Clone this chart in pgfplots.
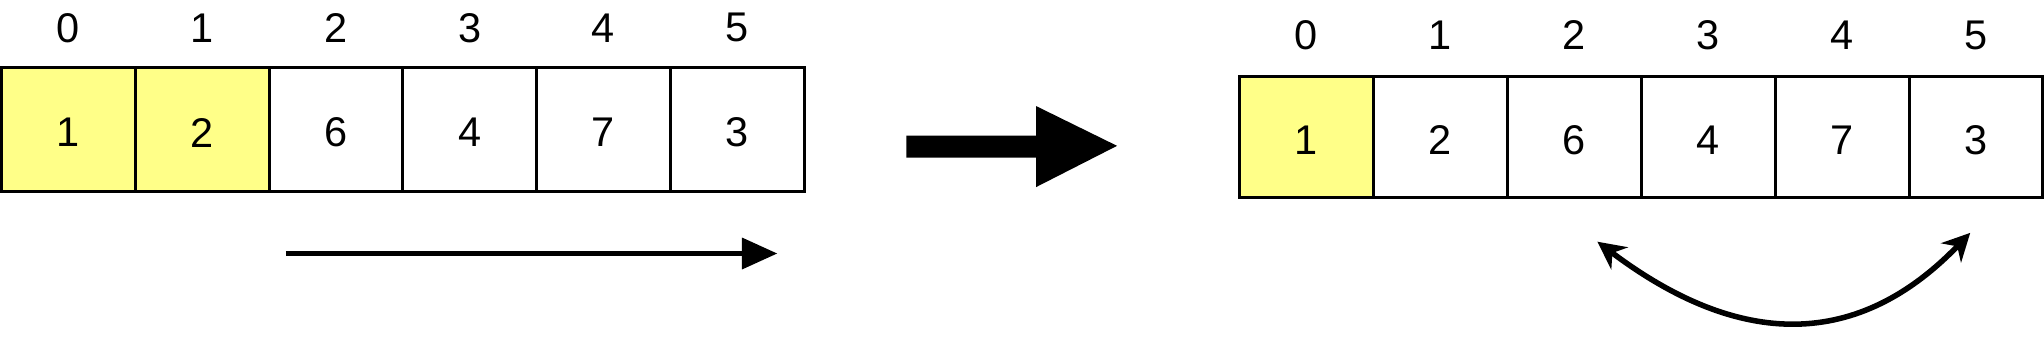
\documentclass[border=0pt]{standalone}
\usepackage{pgfplots}
\pgfplotsset{compat=1.18}
\usepackage{fontspec}
\setmainfont{Liberation Sans}
\usetikzlibrary{arrows.meta}
\definecolor{hl}{HTML}{FFFF88}
\begin{document}
\begin{tikzpicture}
\begin{axis}[width=20.44cm,height=4.8cm,scale only axis,axis lines=none,
 xmin=0,xmax=1560,ymin=0,ymax=366,y dir=reverse,clip=false,
 nodes={font=\fontsize{10.5}{12}\selectfont}]
% left array
\addplot[draw=none,fill=hl] coordinates {(50,109)(232,109)(232,193)(50,193)} --cycle;
\addplot[black,line width=0.8pt] coordinates {(50,109)(595,109)(595,193)(50,193)} --cycle;
\addplot[black,line width=0.8pt] coordinates {(141,109)(141,193)};
\addplot[black,line width=0.8pt] coordinates {(232,109)(232,193)};
\addplot[black,line width=0.8pt] coordinates {(322,109)(322,193)};
\addplot[black,line width=0.8pt] coordinates {(413,109)(413,193)};
\addplot[black,line width=0.8pt] coordinates {(504,109)(504,193)};
% right array
\addplot[draw=none,fill=hl] coordinates {(890,115)(981,115)(981,197)(890,197)} --cycle;
\addplot[black,line width=0.8pt] coordinates {(890,115)(1435,115)(1435,197)(890,197)} --cycle;
\addplot[black,line width=0.8pt] coordinates {(981,115)(981,197)};
\addplot[black,line width=0.8pt] coordinates {(1072,115)(1072,197)};
\addplot[black,line width=0.8pt] coordinates {(1163,115)(1163,197)};
\addplot[black,line width=0.8pt] coordinates {(1254,115)(1254,197)};
\addplot[black,line width=0.8pt] coordinates {(1345,115)(1345,197)};
% labels
\node at (axis cs:95,82) {0};\node at (axis cs:186,82) {1};\node at (axis cs:277,82) {2};
\node at (axis cs:368,82) {3};\node at (axis cs:458,82) {4};\node at (axis cs:549,82) {5};
\node at (axis cs:95,153) {1};\node at (axis cs:186,153) {2};\node at (axis cs:277,153) {6};
\node at (axis cs:368,153) {4};\node at (axis cs:458,153) {7};\node at (axis cs:549,153) {3};
\node at (axis cs:935,87) {0};\node at (axis cs:1026,87) {1};\node at (axis cs:1117,87) {2};
\node at (axis cs:1208,87) {3};\node at (axis cs:1299,87) {4};\node at (axis cs:1390,87) {5};
\node at (axis cs:935,158) {1};\node at (axis cs:1026,158) {2};\node at (axis cs:1117,158) {6};
\node at (axis cs:1208,158) {4};\node at (axis cs:1299,158) {7};\node at (axis cs:1390,158) {3};
% small arrow
\addplot[black,line width=1.2pt] coordinates {(243,235)(556,235)};
\addplot[fill=black,draw=black] coordinates {(553,225)(575,235)(553,245)} --cycle;
% big arrow
\addplot[fill=black,draw=none] coordinates {(664,155)(752,155)(752,135)(807,162)(752,190)(752,170)(664,170)} --cycle;
% curved arrow
\draw[line width=1.4pt,{Stealth[length=7pt,width=7pt]}-{Stealth[length=7pt,width=7pt]}]
 (axis cs:1133,227) .. controls (axis cs:1230,300) and (axis cs:1310,300) .. (axis cs:1386,221);
\end{axis}
\end{tikzpicture}
\end{document}
